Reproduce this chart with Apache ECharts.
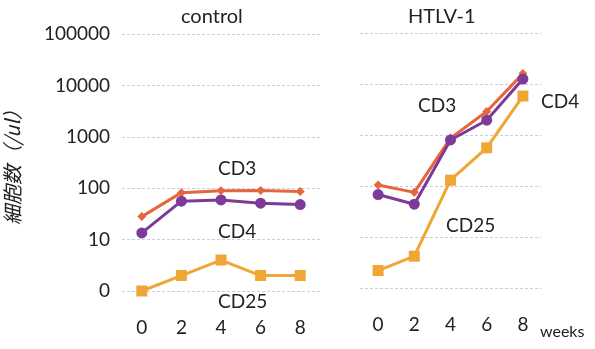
<!DOCTYPE html>
<html><head><meta charset="utf-8">
<script src="https://cdn.jsdelivr.net/npm/echarts@6/dist/echarts.min.js"></script>
<style>html,body{margin:0;padding:0;background:#fff}#c{width:595px;height:349px}</style>
</head><body><div id="c"></div>
<script>
const weeks = ['0','2','4','6','8'];
const yTicks = [1,10,100,1000,10000,100000];
const controlCD3 = [28, 82, 89, 90, 86];
const controlCD4 = [13.5, 56, 59, 51, 48];
const controlCD25 = [1, 2, 4, 2, 2];
const htlvCD3 = [105, 75, 870, 2900, 16000];
const htlvCD4 = [68, 44, 800, 1950, 12500];
const htlvCD25 = [2.2, 4.2, 130, 560, 5800];

const cCD3 = '#E8643A', cCD4 = '#7E3A98', cCD25 = '#EFA634';
const font = 'Lato, "Noto Sans", sans-serif';
const chart = echarts.init(document.getElementById('c'));

function yAxis(idx, show) {
  return {
    type: 'log', gridIndex: idx, min: 1, max: 100000, logBase: 10,
    name: show ? '細胞数（/ul）' : '', nameLocation: 'middle', nameRotate: 90, nameGap: 100,
    nameTextStyle: {fontSize: 20, fontStyle: 'italic', fontFamily: '"Noto Sans CJK JP", sans-serif', color: '#222'},
    axisLine: {show: false}, axisTick: {show: false}, minorTick: {show: false},
    axisLabel: {show: show, fontSize: 19, fontFamily: font, color: '#222', margin: 12,
      formatter: v => (v === 1 ? '0' : String(Math.round(v)))},
    splitLine: {show: true, lineStyle: {color: '#B9D3EE', width: 1, type: [3, 2]}}
  };
}
function xAxis(idx) {
  return {
    type: 'category', gridIndex: idx, data: weeks, boundaryGap: true,
    axisLine: {show: false}, axisTick: {show: false},
    axisLabel: {fontSize: 19, fontFamily: font, color: '#222', margin: 27}
  };
}
function series(name, data, idx, color, symbol, size) {
  return {name, type: 'line', xAxisIndex: idx, yAxisIndex: idx, data,
    symbol, symbolSize: size, showAllSymbol: true,
    lineStyle: {color, width: 3}, itemStyle: {color}, emphasis: {disabled: true}, z: 3};
}
const label = (text, x, y, size) => ({type: 'text', left: x, top: y,
  style: {text, fontSize: size || 19, fontFamily: font, fill: '#222'}});

chart.setOption({
  animation: false,
  backgroundColor: '#fff',
  title: [
    {text: 'control', left: 176, top: 2, textStyle: {fontSize: 20, fontWeight: 'normal', fontFamily: font, color: '#222'}},
    {text: 'HTLV-1', left: 403, top: 2, textStyle: {fontSize: 20, fontWeight: 'normal', fontFamily: font, color: '#222'}}
  ],
  grid: [
    {left: 122, top: 34, width: 198, height: 257},
    {left: 360, top: 33, width: 181, height: 255}
  ],
  xAxis: [xAxis(0), xAxis(1)],
  yAxis: [yAxis(0, true), yAxis(1, false)],
  series: [
    series('CD3', controlCD3, 0, cCD3, 'diamond', 9),
    series('CD25', controlCD25, 0, cCD25, 'rect', 11),
    series('CD4', controlCD4, 0, cCD4, 'circle', 11),
    series('CD3', htlvCD3, 1, cCD3, 'diamond', 9),
    series('CD25', htlvCD25, 1, cCD25, 'rect', 11),
    series('CD4', htlvCD4, 1, cCD4, 'circle', 11)
  ],
  graphic: [
    label('CD3', 218, 159),
    label('CD4', 218, 222),
    label('CD25', 218, 292),
    label('CD3', 418, 96),
    label('CD4', 541, 92),
    label('CD25', 446, 216),
    label('weeks', 540, 324, 16)
  ]
});
</script></body></html>
